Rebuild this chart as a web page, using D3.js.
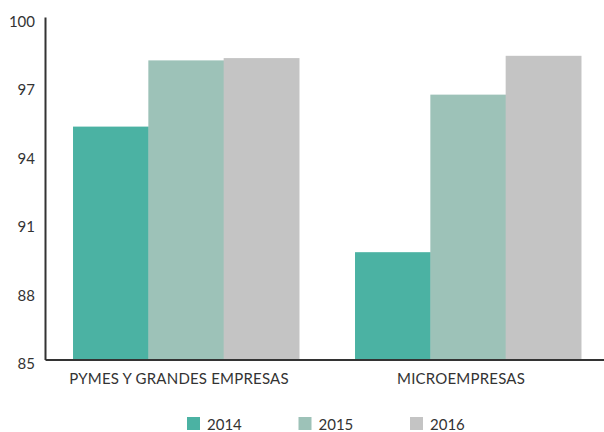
<!DOCTYPE html>
<html>
<head>
<meta charset="utf-8">
<script src="https://cdn.jsdelivr.net/npm/d3@7"></script>
<style>
  body { margin: 0; background: #fff; }
  text { font-family: Lato, "Open Sans", sans-serif; fill: #333; }
</style>
</head>
<body>
<div id="viz"></div>
<script>
"use strict";
const categories = ['PYMES Y GRANDES EMPRESAS', 'MICROEMPRESAS']
const years = ['2014', '2015', '2016']
const values2014 = [95.2, 89.7]
const values2015 = [98.1, 96.6]
const values2016 = [98.2, 98.3]
const yTicks = [85, 88, 91, 94, 97, 100]
const colors = ['#4bb2a3', '#9dc2b8', '#c4c4c4']

const m = { width: 604, height: 432 }
const series = [values2014, values2015, values2016]

const svg = d3.select('#viz').append('svg')
    .attr('width', m.width)
    .attr('height', m.height)

const x0 = d3.scaleBand()
    .domain(categories)
    .range([45, 609])
const x1 = d3.scaleBand()
    .domain(years)
    .range([0, x0.bandwidth()])
    .paddingOuter(0.372)
const y = d3.scaleLinear()
    .domain([85, 100])
    .range([359.5, 17])

// bars
const groups = svg.selectAll('.group')
    .data(categories)
    .enter()
    .append('g')
      .attr('transform', d => 'translate(' + x0(d) + ',0)')
groups.selectAll('rect')
    .data((d, i) => years.map((yr, j) => ({ year: yr, value: series[j][i], j: j })))
    .enter()
    .append('rect')
      .attr('x', d => x1(d.year))
      .attr('width', x1.bandwidth() + 0.5)
      .attr('y', d => y(d.value))
      .attr('height', d => y(85) - y(d.value))
      .attr('fill', d => colors[d.j])

// y axis
const yAxis = svg.append('g')
    .attr('transform', 'translate(45,0)')
    .call(d3.axisLeft(y).tickValues(yTicks).tickSize(0).tickSizeOuter(0).tickPadding(10))
yAxis.select('.domain').attr('stroke', '#333').attr('stroke-width', 2)
yAxis.selectAll('text')
    .attr('font-size', 15)
    .attr('dy', '0.62em')
    .style('font-family', 'Lato, sans-serif')

// x axis
const xAxis = svg.append('g')
    .attr('transform', 'translate(0,' + y(85) + ')')
    .call(d3.axisBottom(x0).tickSize(0).tickSizeOuter(0).tickPadding(14))
xAxis.select('.domain').attr('stroke', '#333').attr('stroke-width', 2)
xAxis.selectAll('text')
    .attr('font-size', 15)
    .attr('x', -7)
    .attr('letter-spacing', 0.2)
    .style('font-family', 'Lato, sans-serif')

// legend
const legend = svg.selectAll('.legend')
    .data(years)
    .enter()
    .append('g')
      .attr('transform', (d, i) => 'translate(' + (187 + i * 111.5) + ',417)')
legend.append('rect')
    .attr('width', 13)
    .attr('height', 13)
    .attr('fill', (d, i) => colors[i])
legend.append('text')
    .attr('x', 20)
    .attr('y', 12.5)
    .attr('font-size', 15)
    .text(d => d)
</script>
</body>
</html>
